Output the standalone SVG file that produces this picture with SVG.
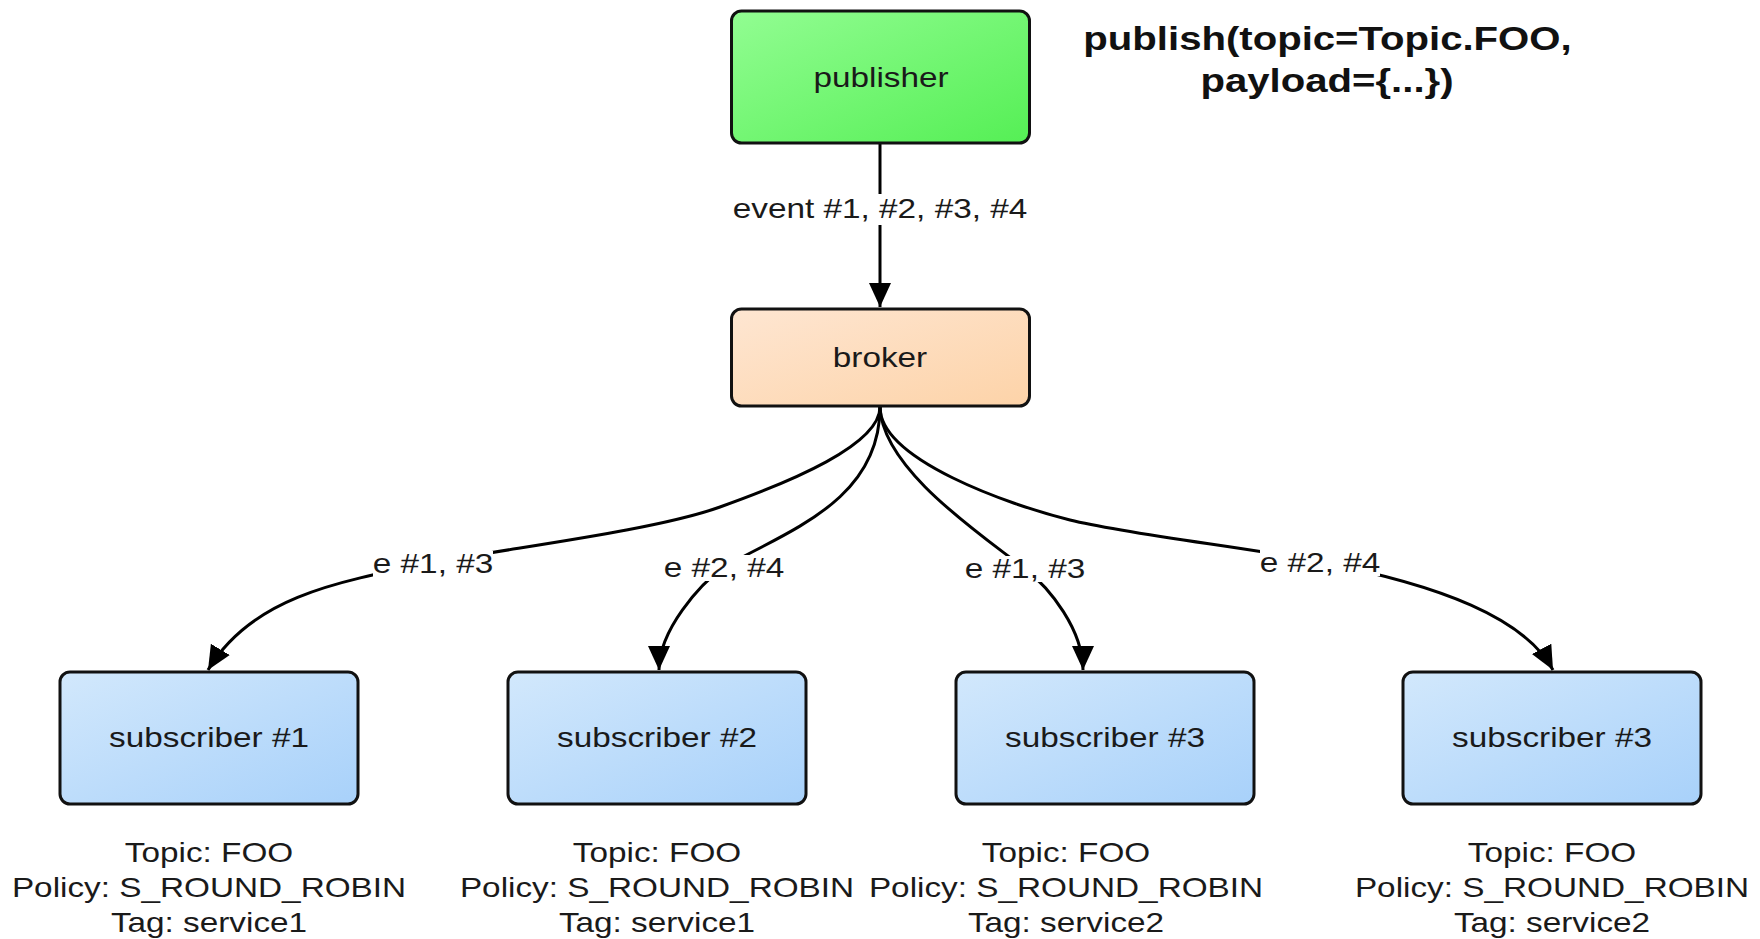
<svg xmlns="http://www.w3.org/2000/svg" width="1760" height="939" viewBox="0 0 1760 939">
<style>
.box{stroke:#111;stroke-width:3}
.t{font-family:"Liberation Sans",Arial,sans-serif;font-size:28px;fill:#1a1a1a;text-anchor:middle}
.b{font-family:"Liberation Sans",Arial,sans-serif;font-size:34px;font-weight:bold;fill:#111;text-anchor:middle}
.edge{fill:none;stroke:#000;stroke-width:3}
.lbg{fill:#fff}
</style>
<defs>
<linearGradient id="gGreen" x1="0" y1="0" x2="1" y2="1"><stop offset="0" stop-color="#92fd92"/><stop offset="1" stop-color="#55ef55"/></linearGradient>
<linearGradient id="gPeach" x1="0" y1="0" x2="1" y2="1"><stop offset="0" stop-color="#fee6d2"/><stop offset="1" stop-color="#fdd3a8"/></linearGradient>
<linearGradient id="gBlue" x1="0" y1="0" x2="1" y2="1"><stop offset="0" stop-color="#d2e8fc"/><stop offset="1" stop-color="#a8d1fa"/></linearGradient>
<marker id="arr" markerUnits="userSpaceOnUse" markerWidth="26" markerHeight="24" refX="24" refY="11" orient="auto"><path d="M0,0 L24,11 L0,22 Z" fill="#000"/></marker>
</defs>
<rect width="1760" height="939" fill="#fff"/>

<g id="connectors">
<path class="edge" d="M880 143 L880 307" marker-end="url(#arr)"/>
<path class="edge" d="M880 407 C880 445 790 482 720 507 C650 532 493 550 433 563 C330 582 250 600 208 670" marker-end="url(#arr)"/>
<path class="edge" d="M880 407 C880 500 790 530 724 567 C700 584 659 630 659 670" marker-end="url(#arr)"/>
<path class="edge" d="M880 407 C882 470 985 537 1025 569 C1050 588 1083 630 1083 670" marker-end="url(#arr)"/>
<path class="edge" d="M880 407 C880 460 1010 505 1070 520 C1130 535 1260 549 1320 562 C1440 585 1525 618 1553 670" marker-end="url(#arr)"/>
<rect class="lbg" x="732" y="194" width="296" height="31"/>
<text class="t" transform="translate(880,218) scale(1.19,1)">event #1, #2, #3, #4</text>
<rect class="lbg" x="373" y="551" width="120" height="26"/>
<text class="t" transform="translate(433,573) scale(1.19,1)">e #1, #3</text>
<rect class="lbg" x="664" y="555" width="120" height="26"/>
<text class="t" transform="translate(724,577) scale(1.19,1)">e #2, #4</text>
<rect class="lbg" x="965" y="556" width="120" height="26"/>
<text class="t" transform="translate(1025,578) scale(1.19,1)">e #1, #3</text>
<rect class="lbg" x="1260" y="550" width="120" height="26"/>
<text class="t" transform="translate(1320,572) scale(1.19,1)">e #2, #4</text>
</g>

<g id="publisher">
<rect class="box" x="731.5" y="11" width="298" height="132" rx="10" fill="url(#gGreen)"/>
<text class="t" transform="translate(881,87) scale(1.19,1)">publisher</text>
</g>

<g id="publish-call">
<text class="b" transform="translate(1327.5,50) scale(1.18,1)">publish(topic=Topic.FOO,</text>
<text class="b" transform="translate(1327,92) scale(1.18,1)">payload={...})</text>
</g>

<g id="broker">
<rect class="box" x="731.5" y="309" width="298" height="97" rx="10" fill="url(#gPeach)"/>
<text class="t" transform="translate(880,367) scale(1.19,1)">broker</text>
</g>

<g id="subscriber1">
<rect class="box" x="60" y="672" width="298" height="132" rx="10" fill="url(#gBlue)"/>
<text class="t" transform="translate(209,747) scale(1.19,1)">subscriber #1</text>
<text class="t" transform="translate(209,862) scale(1.19,1)">Topic: FOO</text>
<text class="t" transform="translate(209,897) scale(1.19,1)">Policy: S_ROUND_ROBIN</text>
<text class="t" transform="translate(209,932) scale(1.19,1)">Tag: service1</text>
</g>

<g id="subscriber2">
<rect class="box" x="508" y="672" width="298" height="132" rx="10" fill="url(#gBlue)"/>
<text class="t" transform="translate(657,747) scale(1.19,1)">subscriber #2</text>
<text class="t" transform="translate(657,862) scale(1.19,1)">Topic: FOO</text>
<text class="t" transform="translate(657,897) scale(1.19,1)">Policy: S_ROUND_ROBIN</text>
<text class="t" transform="translate(657,932) scale(1.19,1)">Tag: service1</text>
</g>

<g id="subscriber3">
<rect class="box" x="956" y="672" width="298" height="132" rx="10" fill="url(#gBlue)"/>
<text class="t" transform="translate(1105,747) scale(1.19,1)">subscriber #3</text>
<text class="t" transform="translate(1066,862) scale(1.19,1)">Topic: FOO</text>
<text class="t" transform="translate(1066,897) scale(1.19,1)">Policy: S_ROUND_ROBIN</text>
<text class="t" transform="translate(1066,932) scale(1.19,1)">Tag: service2</text>
</g>

<g id="subscriber4">
<rect class="box" x="1403" y="672" width="298" height="132" rx="10" fill="url(#gBlue)"/>
<text class="t" transform="translate(1552,747) scale(1.19,1)">subscriber #3</text>
<text class="t" transform="translate(1552,862) scale(1.19,1)">Topic: FOO</text>
<text class="t" transform="translate(1552,897) scale(1.19,1)">Policy: S_ROUND_ROBIN</text>
<text class="t" transform="translate(1552,932) scale(1.19,1)">Tag: service2</text>
</g>
</svg>
